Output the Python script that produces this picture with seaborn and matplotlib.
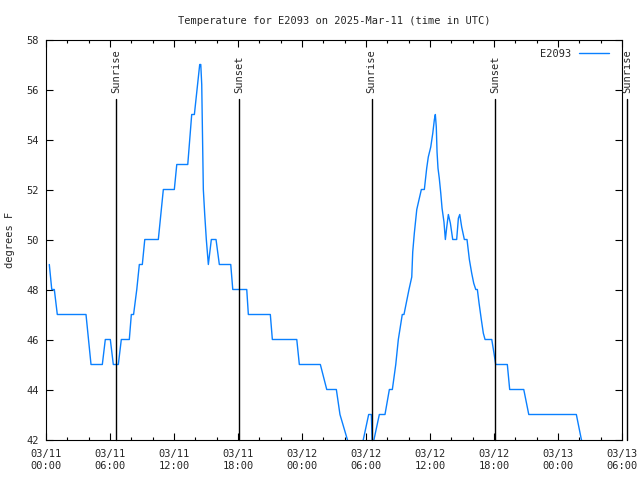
import pandas as pd
import seaborn as sns
import matplotlib.pyplot as plt
import matplotlib.dates as mdates

# hours after 2025-03-11 00:00 UTC
hours = [0.31, 0.54, 0.78, 1.06, 3.75, 4.22, 5.28, 5.56, 6.03, 6.31, 6.78, 7.06,
         7.81, 8.00, 8.21, 8.51, 8.75, 9.03, 9.26, 10.53, 11.00, 12.03, 12.26,
         13.29, 13.66, 13.91, 14.16, 14.41, 14.51, 14.60, 14.66, 14.75, 14.88,
         15.03, 15.22, 15.50, 15.94, 16.25, 17.32, 17.51, 18.82, 18.97, 21.03,
         21.22, 23.51, 23.75, 25.72, 26.32, 27.22, 27.56, 28.25, 28.60, 29.44,
         29.75, 30.25, 30.50, 30.59, 30.69, 30.75, 31.25, 31.78, 32.19, 32.47,
         32.79, 33.03, 33.40, 33.56, 34.03, 34.29, 34.38, 34.53, 34.76, 35.00,
         35.19, 35.47, 35.69, 35.84, 36.07, 36.26, 36.41, 36.50, 36.59, 36.66,
         36.75, 36.87, 37.01, 37.13, 37.31, 37.44, 37.57, 37.72, 37.91, 38.13,
         38.50, 38.66, 38.79, 38.97, 39.22, 39.47, 39.69, 39.91, 40.10, 40.29,
         40.44, 40.60, 40.81, 41.00, 41.16, 41.79, 42.00, 42.16, 43.25, 43.47,
         44.79, 45.26, 49.72, 50.19, 50.54]
temps = [49, 48, 48, 47, 47, 45, 45, 46, 46, 45, 45, 46,
         46, 47, 47, 48, 49, 49, 50, 50, 52, 52, 53,
         53, 55, 55, 56, 57, 57, 56.2, 54.5, 52, 51,
         50, 49, 50, 50, 49, 49, 48, 48, 47, 47,
         46, 46, 45, 45, 44, 44, 43, 42, 41.5, 41.5,
         42, 43, 43, 41.8, 41.8, 42, 43, 43, 44, 44,
         45, 46, 47, 47, 48, 48.5, 49.5, 50.25, 51.2, 51.65,
         52, 52, 52.85, 53.3, 53.7, 54.25, 54.8, 55, 54.5, 53.5,
         52.85, 52.45, 51.85, 51.25, 50.7, 50, 50.5, 51, 50.65, 50,
         50, 50.85, 51, 50.5, 50, 50, 49.2, 48.65, 48.25, 48,
         48, 47.45, 46.8, 46.25, 46, 46, 45.45, 45, 45, 44,
         44, 43, 43, 42, 41.6]

sun_times = ["2025-03-11 06:35", "2025-03-11 18:07", "2025-03-12 06:31",
             "2025-03-12 18:07", "2025-03-13 06:29"]
sun_labels = ["Sunrise", "Sunset", "Sunrise", "Sunset", "Sunrise"]

start = pd.Timestamp("2025-03-11 00:00")
df = pd.DataFrame({"time": start + pd.to_timedelta(hours, unit="h"), "temp": temps})

sns.set_style("ticks")
plt.rcParams["font.family"] = ["DejaVu Sans Mono"]
plt.rcParams["font.size"] = 7.5

fig = plt.figure(figsize=(6.4, 4.8), dpi=100)
ax = fig.add_axes([46 / 640, 1 - 439.5 / 480, 576 / 640, 400 / 480])

sns.lineplot(data=df, x="time", y="temp", ax=ax, color="#0a80ff",
             linewidth=1.0, label="E2093")

# sunrise / sunset markers
for t, lab in zip(sun_times, sun_labels):
    ts = pd.Timestamp(t)
    ax.plot([ts, ts], [42, 55.62], color="black", linewidth=1.0, clip_on=False)
    ax.text(ts, 55.86, lab, rotation=90, ha="center", va="bottom",
            fontsize=7.5, clip_on=False)

ax.set_xlim(pd.Timestamp("2025-03-11 00:00"), pd.Timestamp("2025-03-13 06:00"))
ax.set_ylim(42, 58)
ax.set_yticks(range(42, 59, 2))
ax.xaxis.set_major_locator(mdates.HourLocator(byhour=range(0, 24, 6)))
ax.xaxis.set_minor_locator(mdates.HourLocator(byhour=range(0, 24, 2)))
ax.xaxis.set_major_formatter(mdates.DateFormatter("%m/%d\n%H:%M"))
ax.tick_params(which="both", direction="in", top=True, right=True,
               color="black", width=0.8, labelsize=7.5)
ax.tick_params(which="major", length=5, pad=5)
ax.tick_params(axis="x", which="major", pad=7)
ax.tick_params(which="minor", length=2.5)
for s in ax.spines.values():
    s.set_linewidth(0.8)
    s.set_color("black")

ax.set_xlabel("")
ax.set_ylabel("degrees F", fontsize=7.5, labelpad=8)
ax.set_title("Temperature for E2093 on 2025-Mar-11 (time in UTC)",
             fontsize=7.5, pad=11.5)

ax.legend(loc="upper right", bbox_to_anchor=(0.99, 0.995), frameon=False,
          markerfirst=False, handlelength=2.9, handletextpad=0.7,
          fontsize=7.5, borderaxespad=0.3)

fig.savefig("out.png", dpi=100)
